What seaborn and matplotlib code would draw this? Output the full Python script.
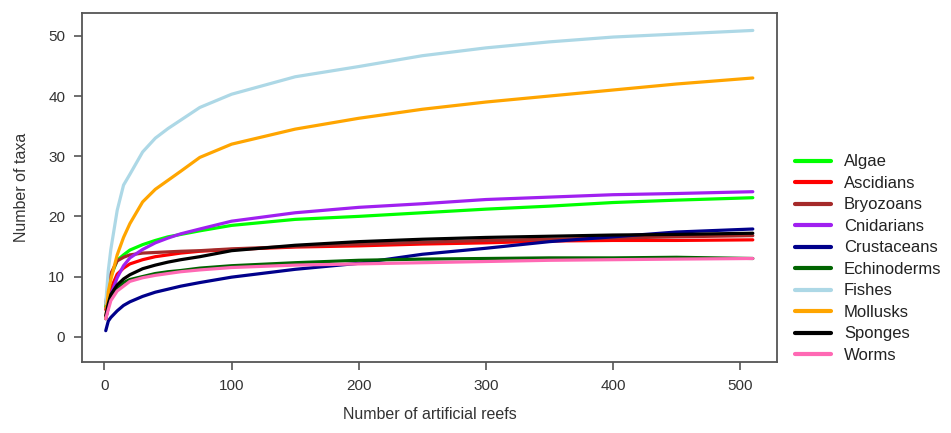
import numpy as np
import pandas as pd
import matplotlib
matplotlib.use("Agg")
import matplotlib.pyplot as plt
from matplotlib.lines import Line2D
import seaborn as sns

reefs = [1, 3, 5, 10, 15, 20, 30, 40, 50, 60, 75, 100, 150, 200, 250, 300, 350, 400, 450, 510]

algae       = [5.0, 8.0, 10.0, 12.7, 13.6, 14.4, 15.3, 16.0, 16.6, 17.0, 17.6, 18.5, 19.5, 20.0, 20.6, 21.2, 21.7, 22.3, 22.7, 23.1]
ascidians   = [4.5, 6.5, 8.0, 10.4, 11.4, 12.1, 12.8, 13.3, 13.6, 13.9, 14.2, 14.5, 14.9, 15.1, 15.4, 15.6, 15.9, 16.0, 16.0, 16.1]
bryozoans   = [5.5, 8.5, 10.5, 12.6, 13.2, 13.6, 13.9, 14.0, 14.1, 14.2, 14.3, 14.6, 15.0, 15.4, 15.7, 16.0, 16.2, 16.4, 16.6, 16.8]
cnidarians  = [3.0, 5.0, 7.0, 9.8, 11.8, 13.1, 14.5, 15.6, 16.4, 17.1, 17.9, 19.2, 20.6, 21.5, 22.1, 22.8, 23.2, 23.6, 23.8, 24.1]
crustaceans = [1.0, 2.6, 3.2, 4.3, 5.2, 5.8, 6.7, 7.4, 7.9, 8.4, 9.0, 9.9, 11.2, 12.2, 13.7, 14.7, 15.8, 16.6, 17.4, 17.9]
echinoderms = [3.0, 5.0, 6.5, 8.0, 9.0, 9.5, 10.0, 10.5, 10.8, 11.0, 11.4, 11.8, 12.3, 12.7, 12.9, 13.0, 13.1, 13.1, 13.2, 13.0]
fishes      = [5.5, 11.0, 14.5, 21.0, 25.2, 27.0, 30.7, 33.0, 34.6, 36.0, 38.1, 40.3, 43.2, 44.9, 46.7, 48.0, 49.0, 49.8, 50.3, 50.9]
mollusks    = [3.0, 7.5, 9.5, 13.6, 16.5, 18.8, 22.4, 24.5, 26.0, 27.5, 29.8, 32.0, 34.5, 36.3, 37.8, 39.0, 40.0, 41.0, 42.0, 43.0]
sponges     = [3.5, 5.5, 7.0, 8.6, 9.6, 10.3, 11.3, 11.9, 12.4, 12.8, 13.3, 14.3, 15.2, 15.8, 16.2, 16.5, 16.7, 16.9, 17.0, 17.2]
worms       = [3.0, 4.5, 6.0, 7.6, 8.4, 9.2, 9.8, 10.2, 10.5, 10.8, 11.1, 11.5, 11.9, 12.1, 12.3, 12.5, 12.7, 12.8, 12.9, 13.0]

taxa = ["Algae", "Ascidians", "Bryozoans", "Cnidarians", "Crustaceans",
        "Echinoderms", "Fishes", "Mollusks", "Sponges", "Worms"]
series = [algae, ascidians, bryozoans, cnidarians, crustaceans,
          echinoderms, fishes, mollusks, sponges, worms]
colors = ["#00FF00", "#FF0000", "#A52A2A", "#A020F0", "#00008B",
          "#006400", "#ADD8E6", "#FFA500", "#000000", "#FF69B4"]

x_ticks = [0, 100, 200, 300, 400, 500]
y_ticks = [0, 10, 20, 30, 40, 50]

df = pd.DataFrame({
    "reefs": np.tile(reefs, len(taxa)),
    "taxa_count": np.concatenate(series),
    "group": np.repeat(taxa, len(reefs)),
})

sns.set_theme(style="ticks")
plt.rcParams["font.family"] = ["Liberation Sans", "DejaVu Sans"]

fig = plt.figure(figsize=(9.51, 4.33), dpi=100)
ax = fig.add_axes([0.0862, 0.164, 0.7308, 0.806])

sns.lineplot(data=df, x="reefs", y="taxa_count", hue="group", hue_order=taxa,
             palette=dict(zip(taxa, colors)), linewidth=2.3, ax=ax,
             legend=False, sort=False, estimator=None)

ax.set_xlim(-17.7, 529)
ax.set_ylim(-4.2, 53.8)
ax.set_xticks(x_ticks)
ax.set_yticks(y_ticks)
ax.tick_params(axis="both", direction="out", length=6, width=1.2,
               color="#555555", labelsize=11, labelcolor="#333333", pad=6)
for s in ax.spines.values():
    s.set_visible(True)
    s.set_color("#555555")
    s.set_linewidth(1.3)
ax.set_xlabel("Number of artificial reefs", fontsize=11.5, color="#333333", labelpad=10)
ax.set_ylabel("Number of taxa", fontsize=11.5, color="#333333", labelpad=14)

handles = [Line2D([0], [0], color=c, lw=3) for c in colors]
fig.legend(handles, taxa, loc="upper left", bbox_to_anchor=(0.8198, 0.678),
           frameon=False, fontsize=12, handlelength=2.16, handletextpad=0.8,
           labelspacing=0.39, labelcolor="#222222")

fig.savefig("out.png", dpi=100)
